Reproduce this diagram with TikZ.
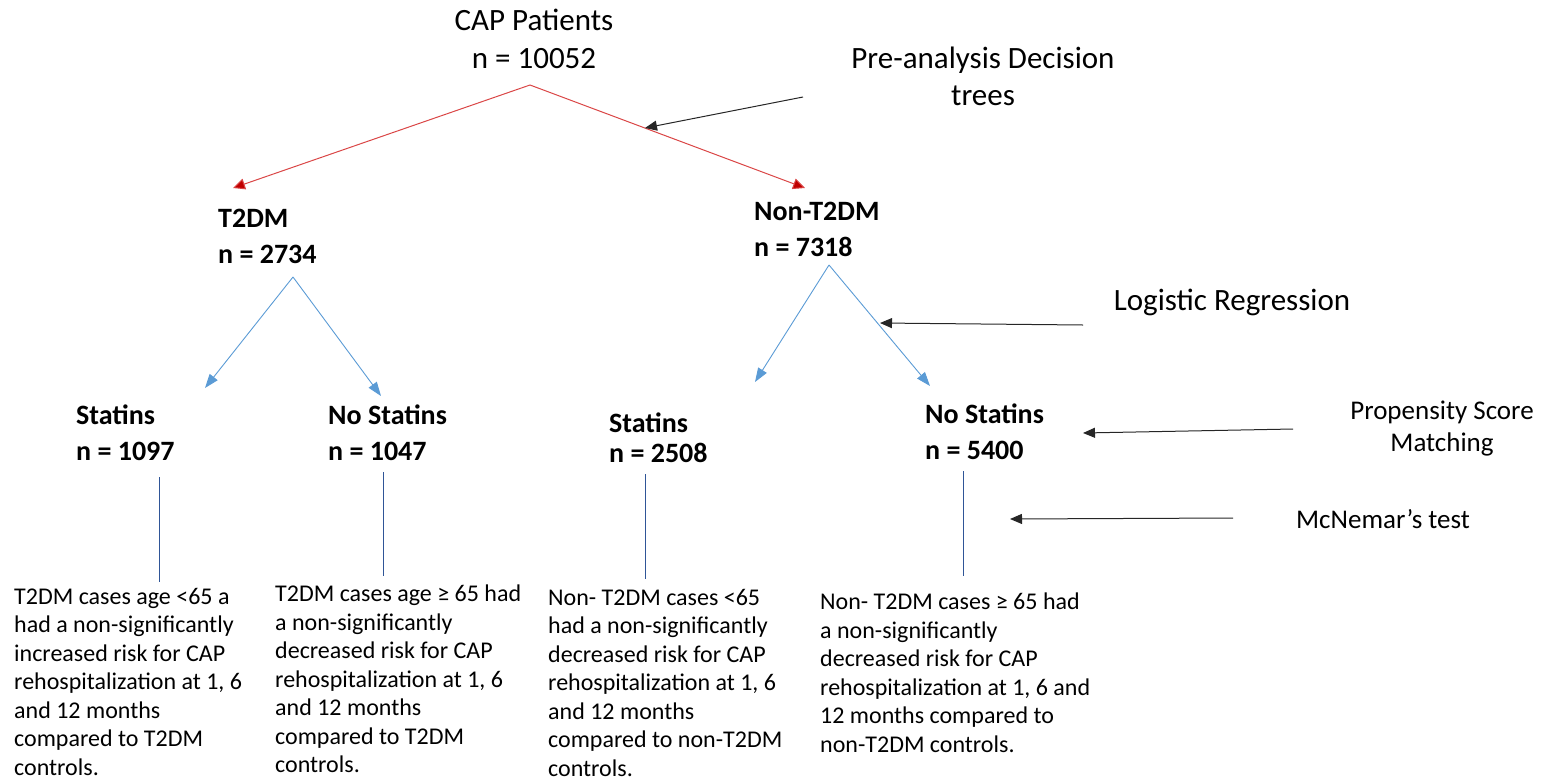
\documentclass[tikz,border=0pt]{standalone}
\usepackage{fontspec}
\setmainfont{Carlito}
\usetikzlibrary{arrows.meta,positioning,calc}
\definecolor{splitred}{RGB}{218,70,70}
\definecolor{tipred}{RGB}{192,0,0}
\definecolor{splitblue}{RGB}{91,155,213}
\definecolor{stemblue}{RGB}{47,85,151}

\begin{document}
\begin{tikzpicture}[
    x=1pt, y=-1pt,
    root/.style={align=center, font=\fontsize{31}{38}\selectfont},
    group/.style={anchor=west, align=left, inner sep=0pt, font=\fontsize{28}{36}\selectfont\bfseries},
    result/.style={anchor=north west, align=left, inner sep=0pt, font=\fontsize{24}{28.5}\selectfont},
    method/.style={align=center, font=\fontsize{31}{37}\selectfont},
    red-split/.style={-{Triangle[length=12pt,width=11pt,fill=tipred]}, splitred, line width=1pt},
    blue-split/.style={-{Triangle[length=14pt,width=10pt]}, splitblue, line width=0.9pt},
    stem/.style={stemblue, line width=1pt},
    method-arrow/.style={-{Triangle[length=12pt,width=10pt]}, black!85, line width=1pt}
]
\useasboundingbox (0,0) rectangle (1553,782);

% Root of the tree
\node[root] (cap) at (534,39) {CAP Patients\\n = 10052};

% First split
\node[group] (t2dm) at (218,236) {T2DM\\n = 2734};
\node[group] (nont2dm) at (754,229) {Non-T2DM\\n = 7318};

% Second split
\node[group] (statA) at (76,433) {Statins\\n = 1097};
\node[group] (nostatA) at (328,433) {No Statins\\n = 1047};
\node[group, font=\fontsize{28}{30}\selectfont\bfseries] (statB) at (609,438) {Statins\\n = 2508};
\node[group] (nostatB) at (925,432) {No Statins\\n = 5400};

% Outcomes
\node[result] (resA) at (14,588) {T2DM cases age <65 a\\had a non-significantly\\increased risk for CAP\\rehospitalization at 1, 6\\and 12 months\\compared to T2DM\\controls.};
\node[result] (resB) at (275,585) {T2DM cases age ≥ 65 had\\a non-significantly\\decreased risk for CAP\\rehospitalization at 1, 6\\and 12 months\\compared to T2DM\\controls.};
\node[result] (resC) at (548,589) {Non- T2DM cases <65\\had a non-significantly\\decreased risk for CAP\\rehospitalization at 1, 6\\and 12 months\\compared to non-T2DM\\controls.};
\node[result] (resD) at (820,593) {Non- T2DM cases ≥ 65 had\\a non-significantly\\decreased risk for CAP\\rehospitalization at 1, 6 and\\12 months compared to\\non-T2DM controls.};

% Methods
\node[method] (tree) at (983,76) {Pre-analysis Decision\\trees};
\node[method] (logreg) at (1232,302) {Logistic Regression};
\node[method, font=\fontsize{27}{32}\selectfont] (psm) at (1442,429) {Propensity Score\\Matching};
\node[method, font=\fontsize{27}{32}\selectfont] (mcn) at (1383,519) {McNemar’s test};

% Fork and end points
\coordinate (capfork) at (530,85);
\coordinate (t2dmtip) at (233,188);
\coordinate (nontip) at (805,188);
\coordinate (forkA) at (293,277);
\coordinate (statAtip) at (205,388);
\coordinate (nostatAtip) at (381,396);
\coordinate (forkB) at (829,265);
\coordinate (statBtip) at (755,382);
\coordinate (nostatBtip) at (930,386);

\draw[red-split] (capfork) -- (t2dmtip);
\draw[red-split] (capfork) -- (nontip);
\draw[blue-split] (forkA) -- (statAtip);
\draw[blue-split] (forkA) -- (nostatAtip);
\draw[blue-split] (forkB) -- (statBtip);
\draw[blue-split] (forkB) -- (nostatBtip);

% Stems down to the outcomes
\coordinate (stemA) at (159,477);
\coordinate (stemB) at (383,472);
\coordinate (stemC) at (645,474);
\coordinate (stemD) at (963,471);
\draw[stem] (stemA) -- (stemA |- 0,582);
\draw[stem] (stemB) -- (stemB |- 0,576);
\draw[stem] (stemC) -- (stemC |- 0,579);
\draw[stem] (stemD) -- (stemD |- 0,576);

% Pointers from the methods
\coordinate (treefrom) at (803,97);
\coordinate (treeto) at (645,128);
\coordinate (logfrom) at (1083,325);
\coordinate (logto) at (880,323);
\coordinate (psmfrom) at (1293,429);
\coordinate (psmto) at (1083,433);
\coordinate (mcnfrom) at (1233,518);
\coordinate (mcnto) at (1010,519);
\draw[method-arrow] (treefrom) -- (treeto);
\draw[method-arrow] (logfrom) -- (logto);
\draw[method-arrow] (psmfrom) -- (psmto);
\draw[method-arrow] (mcnfrom) -- (mcnto);

\end{tikzpicture}
\end{document}
